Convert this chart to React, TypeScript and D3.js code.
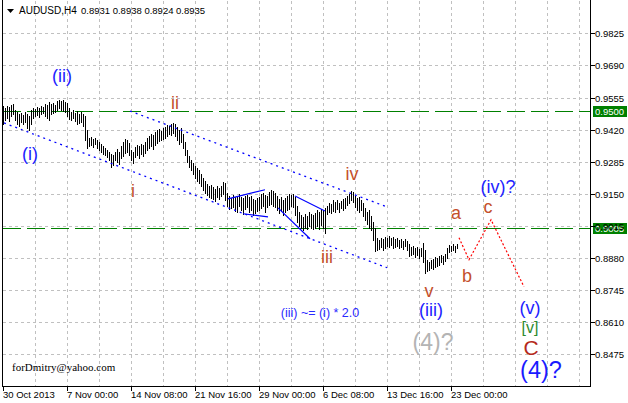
import React from 'react';
import * as d3 from 'd3';

const W = 628;
const H = 403;

// H4 bars (high / low), one per 4-hour bar, from 30 Oct 2013 16:00
const highs = [
  0.9519,0.9511,0.9519,0.9515,0.9523,0.9528,0.9503,0.9494,0.9486,0.9490,
  0.9482,0.9494,0.9486,0.9477,0.9503,0.9511,0.9507,0.9515,0.9511,0.9519,
  0.9515,0.9528,0.9523,0.9536,0.9528,0.9532,0.9523,0.9540,0.9544,0.9540,
  0.9544,0.9536,0.9532,0.9511,0.9494,0.9503,0.9490,0.9498,0.9486,0.9494,
  0.9486,0.9477,0.9419,0.9385,0.9389,0.9381,0.9385,0.9377,0.9368,0.9360,
  0.9351,0.9343,0.9335,0.9326,0.9318,0.9314,0.9326,0.9339,0.9326,0.9351,
  0.9368,0.9381,0.9377,0.9364,0.9335,0.9326,0.9347,0.9356,0.9351,0.9360,
  0.9356,0.9368,0.9385,0.9393,0.9402,0.9398,0.9410,0.9419,0.9423,0.9415,
  0.9427,0.9431,0.9440,0.9435,0.9444,0.9448,0.9444,0.9431,0.9419,0.9427,
  0.9402,0.9368,0.9335,0.9309,0.9293,0.9280,0.9267,0.9259,0.9251,0.9234,
  0.9217,0.9204,0.9192,0.9183,0.9188,0.9179,0.9171,0.9183,0.9175,0.9183,
  0.9200,0.9196,0.9154,0.9141,0.9133,0.9146,0.9137,0.9141,0.9150,0.9137,
  0.9133,0.9141,0.9146,0.9137,0.9141,0.9129,0.9125,0.9133,0.9137,0.9150,
  0.9154,0.9146,0.9141,0.9158,0.9167,0.9162,0.9154,0.9141,0.9129,0.9137,
  0.9125,0.9133,0.9141,0.9150,0.9146,0.9150,0.9137,0.9099,0.9074,0.9062,
  0.9053,0.9066,0.9057,0.9074,0.9066,0.9062,0.9070,0.9083,0.9074,0.9087,
  0.9083,0.9091,0.9099,0.9112,0.9108,0.9125,0.9116,0.9125,0.9112,0.9120,
  0.9129,0.9133,0.9141,0.9150,0.9162,0.9158,0.9141,0.9133,0.9137,0.9125,
  0.9112,0.9091,0.9074,0.9083,0.9057,0.9032,0.9007,0.8965,0.8957,0.8965,
  0.8961,0.8969,0.8965,0.8973,0.8965,0.8969,0.8961,0.8965,0.8957,0.8961,
  0.8952,0.8961,0.8952,0.8940,0.8927,0.8931,0.8923,0.8927,0.8919,0.8923,
  0.8944,0.8915,0.8873,0.8864,0.8873,0.8877,0.8885,0.8881,0.8889,0.8894,
  0.8889,0.8898,0.8923,0.8936,0.8931,0.8940,0.8931,0.8938,
];
const lows = [
  0.9444,0.9461,0.9469,0.9457,0.9477,0.9486,0.9461,0.9444,0.9435,0.9452,
  0.9444,0.9452,0.9427,0.9419,0.9444,0.9469,0.9477,0.9482,0.9473,0.9486,
  0.9490,0.9477,0.9469,0.9461,0.9486,0.9490,0.9494,0.9503,0.9511,0.9503,
  0.9498,0.9494,0.9477,0.9465,0.9461,0.9469,0.9456,0.9444,0.9448,0.9452,
  0.9435,0.9377,0.9343,0.9351,0.9356,0.9347,0.9360,0.9343,0.9335,0.9326,
  0.9318,0.9314,0.9305,0.9293,0.9263,0.9272,0.9293,0.9284,0.9276,0.9301,
  0.9309,0.9322,0.9326,0.9314,0.9293,0.9280,0.9305,0.9314,0.9301,0.9318,
  0.9309,0.9322,0.9335,0.9343,0.9351,0.9339,0.9356,0.9364,0.9372,0.9377,
  0.9381,0.9385,0.9393,0.9402,0.9398,0.9406,0.9393,0.9377,0.9360,0.9368,
  0.9343,0.9314,0.9284,0.9263,0.9251,0.9234,0.9217,0.9204,0.9196,0.9183,
  0.9167,0.9154,0.9146,0.9137,0.9133,0.9129,0.9120,0.9137,0.9129,0.9141,
  0.9150,0.9125,0.9099,0.9087,0.9091,0.9095,0.9078,0.9074,0.9099,0.9083,
  0.9066,0.9087,0.9095,0.9074,0.9083,0.9062,0.9070,0.9078,0.9083,0.9091,
  0.9099,0.9074,0.9095,0.9104,0.9108,0.9099,0.9095,0.9083,0.9070,0.9078,
  0.9062,0.9074,0.9083,0.9087,0.9099,0.9095,0.9062,0.9032,0.9015,0.9007,
  0.8999,0.9007,0.9003,0.9015,0.9007,0.9003,0.9007,0.9015,0.9003,0.9020,
  0.9007,0.8986,0.9066,0.9074,0.9070,0.9078,0.9074,0.9087,0.9074,0.9091,
  0.9083,0.9091,0.9104,0.9112,0.9125,0.9116,0.9095,0.9083,0.9074,0.9083,
  0.9057,0.9041,0.9024,0.9007,0.8999,0.8957,0.8911,0.8915,0.8919,0.8927,
  0.8915,0.8923,0.8931,0.8927,0.8936,0.8923,0.8927,0.8931,0.8923,0.8927,
  0.8919,0.8931,0.8915,0.8889,0.8894,0.8898,0.8885,0.8894,0.8881,0.8889,
  0.8864,0.8818,0.8826,0.8831,0.8839,0.8835,0.8843,0.8847,0.8852,0.8864,
  0.8856,0.8869,0.8881,0.8906,0.8911,0.8915,0.8906,0.8924,
];

const priceTicks = [0.9825, 0.969, 0.9555, 0.942, 0.9285, 0.915, 0.9015, 0.888, 0.8745, 0.861, 0.8475];
const timeLabels = ['30 Oct 2013', '7 Nov 00:00', '14 Nov 08:00', '21 Nov 16:00', '29 Nov 00:00', '6 Dec 08:00', '13 Dec 16:00', '23 Dec 00:00'];
const timeLabelBars = [0, 32, 64, 96, 128, 160, 192, 224];
const levelPrices = [0.95, 0.9005];
const levelLabels = ['0.9500', '0.9005'];
const titleSymbol = 'AUDUSD,H4';
const titleOHLC = ['0.8931', '0.8938', '0.8924', '0.8935'];

// trend lines: [bar index, price]
const channelUpper: [number, number][] = [[63.25, 0.9498], [191.75, 0.9095]];
const channelLower: [number, number][] = [[0.25, 0.9448], [191.75, 0.8839]];
const wedgeLines: [number, number][][] = [
  [[112.25, 0.9129], [130.75, 0.9167]],
  [[119.75, 0.9066], [132.25, 0.9053]],
  [[145.75, 0.9141], [160.75, 0.9078]],
  [[137.25, 0.9091], [153.25, 0.8961]],
];
const projection: [number, number][] = [[227.75, 0.8965], [232.75, 0.8873], [243.75, 0.9041], [260.25, 0.8759]];

// wave labels: text, bar index, price, kind
const waveLabels: [string, number, number, string][] = [
  ['(ii)', 29.25, 0.962, 'blue'],
  ['(i)', 13.25, 0.9293, 'blue'],
  ['ii', 85.75, 0.9507, 'minor'],
  ['i', 64.75, 0.9137, 'minor'],
  ['iv', 174.25, 0.9209, 'minor'],
  ['iii', 161.75, 0.886, 'minor'],
  ['v', 212.75, 0.8717, 'minor'],
  ['a', 226.25, 0.9045, 'minor'],
  ['b', 231.75, 0.878, 'minor'],
  ['c', 242.25, 0.907, 'minor'],
  ['(iv)?', 247.25, 0.9154, 'blue'],
  ['(iii)', 213.75, 0.8637, 'blue'],
  ['(v)', 263.25, 0.8643, 'blue'],
  ['[v]', 263.25, 0.8563, 'green'],
  ['C', 263.75, 0.8474, 'big'],
  ['(4)?', 268.75, 0.8377, 'bigblue'],
  ['(4)?', 214.75, 0.8494, 'gray'],
  ['(iii) ~= (i) * 2.0', 158.25, 0.8633, 'note'],
];

const labelStyle: Record<string, { fill: string; size: number }> = {
  blue: { fill: '#2222ff', size: 18 },
  minor: { fill: '#c4502c', size: 18 },
  green: { fill: '#2e8a2e', size: 16 },
  big: { fill: '#b52a1c', size: 21 },
  bigblue: { fill: '#1a1aff', size: 23.5 },
  gray: { fill: '#b4b4b4', size: 23 },
  note: { fill: '#2a2aff', size: 12.5 },
};

const FONT = 'Liberation Sans, Arial, sans-serif';

export default function App() {
  const left = 2.5;
  const right = 590.5;
  const bottom = 386.5;
  const x = d3.scaleLinear().domain([0, 1]).range([3.5, 5.5]);
  const y = d3.scaleLinear().domain([0.8475, 0.9825]).range([354.3, 33.3]);
  const ry = (p: number) => Math.round(y(p)) + 0.5;
  const line = d3.line<[number, number]>().x((d) => x(d[0])).y((d) => y(d[1]));

  const vGrid = d3.range(16, 300, 16).filter((i) => x(i) < right - 2);

  return (
    <svg width={W} height={H} style={{ position: 'absolute', left: 0, top: 0, background: '#fff' }}>
      <rect x={0} y={0} width={W} height={H} fill="#fff" />
      {/* grid */}
      <g stroke="#c0c0c0" strokeWidth={1} strokeDasharray="3,3" shapeRendering="crispEdges">
        {priceTicks.map((p) => (
          <line key={'h' + p} x1={left} x2={right} y1={ry(p)} y2={ry(p)} />
        ))}
        {vGrid.map((i) => (
          <line key={'v' + i} x1={x(i) - 0.5} x2={x(i) - 0.5} y1={1} y2={bottom} />
        ))}
      </g>

      {/* level lines */}
      {levelPrices.map((p) => (
        <line
          key={'l' + p}
          x1={left}
          x2={right}
          y1={ry(p)}
          y2={ry(p)}
          stroke="#008000"
          strokeWidth={1}
          strokeDasharray="18,6"
          shapeRendering="crispEdges"
        />
      ))}

      {/* bars */}
      <g stroke="#000" strokeWidth={1} shapeRendering="crispEdges">
        {highs.map((h, i) => (
          <line key={i} x1={x(i)} x2={x(i)} y1={Math.round(y(h))} y2={Math.round(y(lows[i])) + 1} />
        ))}
      </g>

      {/* channels */}
      <g fill="none" stroke="#0000ff" strokeWidth={1.3} strokeDasharray="2,4">
        <path d={line(channelUpper) || ''} />
        <path d={line(channelLower) || ''} />
      </g>
      <g fill="none" stroke="#0000ff" strokeWidth={1.2}>
        {wedgeLines.map((w, k) => (
          <path key={k} d={line(w) || ''} />
        ))}
      </g>
      <path d={line(projection) || ''} fill="none" stroke="#ff0000" strokeWidth={1.2} strokeDasharray="2,2" />

      {/* wave labels */}
      {waveLabels.map(([t, i, p, kind], k) => (
        <text
          key={'w' + k}
          x={x(i)}
          y={y(p)}
          textAnchor="middle"
          fontFamily={FONT}
          fontSize={labelStyle[kind].size}
          fill={labelStyle[kind].fill}
        >
          {t}
        </text>
      ))}

      <text x={12} y={371} fontFamily="Liberation Serif, Times New Roman, serif" fontSize={11} fill="#000">
        forDmitry@yahoo.com
      </text>

      {/* frame */}
      <g stroke="#000" strokeWidth={1} shapeRendering="crispEdges">
        <line x1={left - 0.5} x2={left - 0.5} y1={0} y2={bottom} />
        <line x1={left} x2={left} y1={0} y2={bottom} />
        <line x1={right} x2={right} y1={0} y2={bottom} />
        <line x1={left - 1} x2={right} y1={bottom} y2={bottom} />
      </g>

      {/* y axis */}
      <g fontFamily={FONT} fontSize={9.5} fill="#000">
        {levelPrices.map((p, k) => (
          <g key={'lb' + p}>
            <rect x={593} y={Math.round(y(p)) - 5} width={34} height={11} fill="#008000" />
            <text x={595} y={Math.round(y(p)) + 4} fill="#fff">
              {levelLabels[k]}
            </text>
          </g>
        ))}
        {priceTicks.map((p) => (
          <g key={'t' + p}>
            <line x1={right} x2={right + 4} y1={ry(p)} y2={ry(p)} stroke="#000" shapeRendering="crispEdges" />
            <text x={595} y={Math.round(y(p)) + 4}>
              {p.toFixed(4)}
            </text>
          </g>
        ))}
      </g>

      {/* x axis */}
      <g fontFamily={FONT} fontSize={9.5} fill="#000">
        {timeLabelBars.map((b, k) => (
          <g key={'x' + b}>
            <line x1={x(b) - 0.5} x2={x(b) - 0.5} y1={bottom} y2={bottom + 4} stroke="#000" shapeRendering="crispEdges" />
            <text x={x(b) - 0.5} y={398}>
              {timeLabels[k]}
            </text>
          </g>
        ))}
      </g>

      {/* title */}
      <polygon points="7,9 14,9 10.5,13" fill="#000" />
      <text x={19} y={14} fontFamily={FONT} fontSize={10} fill="#000">
        {titleSymbol}
      </text>
      <text x={81} y={14} fontFamily={FONT} fontSize={9.5} fill="#000">
        {titleOHLC.join(' ')}
      </text>
    </svg>
  );
}
